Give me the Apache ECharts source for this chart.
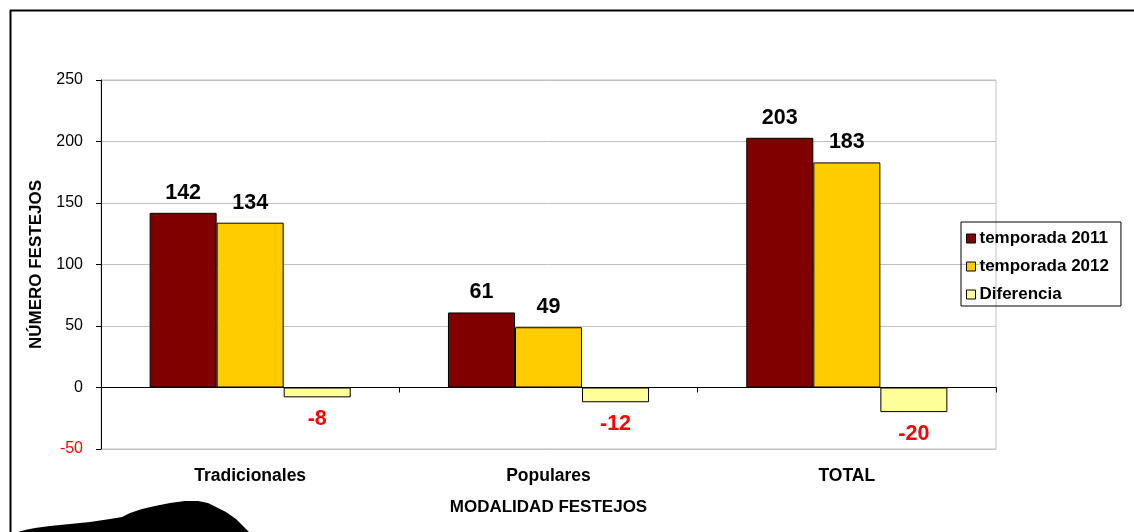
<!DOCTYPE html>
<html>
<head>
<meta charset="utf-8">
<script src="https://cdn.jsdelivr.net/npm/echarts@6/dist/echarts.min.js"></script>
<style>
html,body{margin:0;padding:0;background:#fff;}
#c{width:1134px;height:532px;}
</style>
</head>
<body>
<div id="c"></div>
<script>
const categories = ['Tradicionales', 'Populares', 'TOTAL'];
const temporada2011 = [142, 61, 203];
const temporada2012 = [134, 49, 183];
const diferencia = [-8, -12, -20];
const yTicks = { min: -50, max: 250, interval: 50 };

const FONT = '"Liberation Sans", Arial, sans-serif';
const chart = echarts.init(document.getElementById('c'), null, { renderer: 'canvas' });

const posLabel = {
  show: true, position: 'top', distance: 9,
  color: '#000', fontWeight: 'bold', fontSize: 21.5, fontFamily: FONT
};

chart.setOption({
  animation: false,
  backgroundColor: '#fff',
  grid: {
    left: 101, right: 138, top: 80, bottom: 83,
    show: true, borderColor: '#c0c0c0', borderWidth: 1, backgroundColor: 'transparent'
  },
  legend: {
    orient: 'vertical',
    left: 961, top: 222,
    padding: [8, 12, 3, 5],
    itemGap: 11,
    itemWidth: 9, itemHeight: 9,
    itemStyle: { borderColor: '#000', borderWidth: 1 },
    icon: 'rect',
    borderColor: '#000', borderWidth: 1,
    textStyle: { fontFamily: FONT, fontWeight: 'bold', fontSize: 17, color: '#000', lineHeight: 17, padding: [0, 0, 0, -1] },
    data: ['temporada 2011', 'temporada 2012', 'Diferencia']
  },
  xAxis: [
    {
      type: 'category', data: categories, gridIndex: 0,
      axisLine: { onZero: true, lineStyle: { color: '#000', width: 1 } },
      axisTick: { show: true, length: 5, lineStyle: { color: '#000' } },
      axisLabel: { show: false },
      splitLine: { show: false }
    },
    {
      type: 'category', data: categories, gridIndex: 0, position: 'bottom',
      axisLine: { show: false, onZero: false },
      axisTick: { show: false },
      axisLabel: { show: true, margin: 18, color: '#000', fontWeight: 'bold', fontSize: 17.5, fontFamily: FONT },
      name: 'MODALIDAD FESTEJOS', nameLocation: 'middle', nameGap: 50,
      nameTextStyle: { color: '#000', fontWeight: 'bold', fontSize: 17, fontFamily: FONT }
    }
  ],
  yAxis: {
    type: 'value', min: yTicks.min, max: yTicks.max, interval: yTicks.interval,
    axisLine: { show: true, lineStyle: { color: '#000', width: 1 } },
    axisTick: { show: true, length: 5, lineStyle: { color: '#000' } },
    axisLabel: {
      margin: 18, fontSize: 16, fontFamily: FONT,
      color: function (v) { return Number(v) < 0 ? '#ff0000' : '#000'; }
    },
    splitLine: { show: true, lineStyle: { color: '#c0c0c0', width: 1 } },
    name: 'NÚMERO FESTEJOS', nameLocation: 'middle', nameGap: 56, nameRotate: 90,
    nameTextStyle: { color: '#000', fontWeight: 'bold', fontSize: 17, fontFamily: FONT }
  },
  series: [
    {
      name: 'temporada 2011', type: 'bar', data: temporada2011,
      barGap: '0%', barCategoryGap: '32.6%',
      itemStyle: { color: '#800000', borderColor: '#000', borderWidth: 1 },
      label: posLabel
    },
    {
      name: 'temporada 2012', type: 'bar', data: temporada2012,
      barGap: '0%', barCategoryGap: '32.6%',
      itemStyle: { color: '#FFCC00', borderColor: '#000', borderWidth: 1 },
      label: posLabel
    },
    {
      name: 'Diferencia', type: 'bar', data: diferencia,
      barGap: '0%', barCategoryGap: '32.6%',
      itemStyle: { color: '#FFFF99', borderColor: '#000', borderWidth: 1 },
      label: {
        show: true, position: 'bottom', distance: 11,
        color: '#ff0000', fontWeight: 'bold', fontSize: 21.5, fontFamily: FONT
      }
    }
  ],
  graphic: [
    { type: 'line', shape: { x1: 10, y1: 10.5, x2: 1134, y2: 10.5 }, style: { stroke: '#000', lineWidth: 2 } },
    { type: 'line', shape: { x1: 10.5, y1: 10, x2: 10.5, y2: 532 }, style: { stroke: '#000', lineWidth: 2 } },
    {
      type: 'polygon',
      shape: { points: [[18,532],[25,530],[35,528],[50,526],[70,524],[90,522],[110,519],[122,517],[130,513],[142,509],[155,506],[170,503],[185,501],[198,501],[208,503],[216,507],[226,512],[236,519],[244,527],[249,532]] },
      style: { fill: '#000' }
    }
  ]
});
</script>
</body>
</html>
